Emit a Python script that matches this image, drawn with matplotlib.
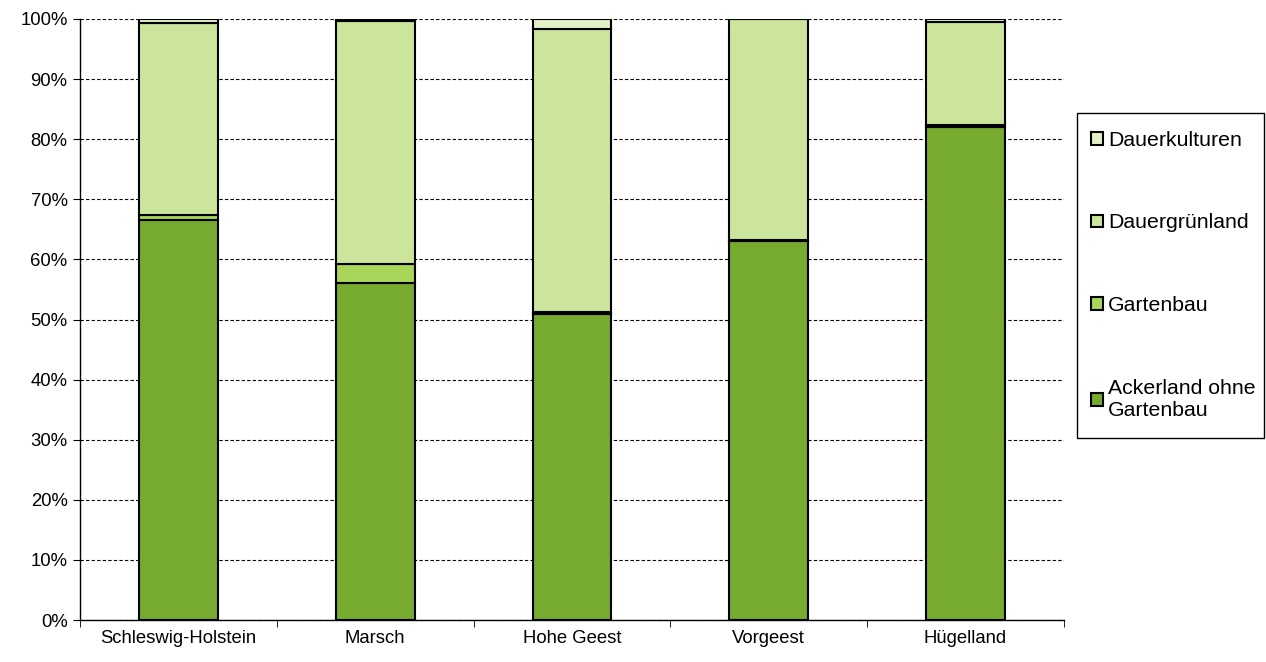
import matplotlib
matplotlib.use("Agg")
import matplotlib.pyplot as plt
from matplotlib.patches import Rectangle
import numpy as np
from matplotlib.ticker import PercentFormatter, FixedLocator

categories = ["Schleswig-Holstein", "Marsch", "Hohe Geest", "Vorgeest", "Hügelland"]
ackerland = [66.6, 56.1, 50.9, 63.0, 82.0]
gartenbau = [0.8, 3.1, 0.3, 0.3, 0.4]
dauergruenland = [31.9, 40.5, 47.1, 36.7, 17.1]
dauerkulturen = [0.7, 0.3, 1.7, 0.0, 0.5]

series = [
    ("Ackerland ohne\nGartenbau", ackerland, "#76AB2F"),
    ("Gartenbau", gartenbau, "#A8D55A"),
    ("Dauergrünland", dauergruenland, "#CBE69C"),
    ("Dauerkulturen", dauerkulturen, "#E4F1C8"),
]

W, H = 1266, 662
plt.rcParams['font.family'] = ['Liberation Sans', 'DejaVu Sans']
fig = plt.figure(figsize=(W / 100, H / 100), dpi=100)
ax = fig.add_axes([0.0632, 0.0634, 0.7772, 0.9079])

x = np.arange(len(categories))
bottom = np.zeros(len(categories))
handles = []
for label, vals, color in series:
    vals = np.array(vals)
    b = ax.bar(x, vals, bottom=bottom, width=0.4, color=color, edgecolor="black",
               linewidth=1.5, label=label, zorder=3)
    handles.append(b)
    bottom += vals

ax.set_xlim(-0.5, len(categories) - 0.5)
ax.set_ylim(0, 100)
ax.yaxis.set_major_locator(FixedLocator(np.arange(0, 101, 10)))
ax.yaxis.set_major_formatter(PercentFormatter(decimals=0))
ax.grid(axis="y", color="black", linestyle=(0, (3, 2)), linewidth=0.8, zorder=0)
ax.set_xticks(x)
ax.set_xticklabels(categories)
ax.tick_params(axis="x", length=0, labelsize=13.3, pad=7)
ax.tick_params(axis="y", length=5, labelsize=13.3, direction="out", pad=4)
ax.set_xticks(np.arange(-0.5, len(categories), 1.0), minor=True)
ax.tick_params(axis="x", which="minor", length=5)
for s in ["top", "right"]:
    ax.spines[s].set_visible(False)
ax.spines["left"].set_linewidth(1.0)
ax.spines["bottom"].set_linewidth(1.0)

leg = fig.legend(handles[::-1], [s[0] for s in series][::-1], loc="lower left",
                 bbox_to_anchor=(1091 / W, 1 - 420 / H), frameon=False,
                 fontsize=15.3,
                 handlelength=0.55, handleheight=0.55, handletextpad=0.25,
                 labelspacing=3.0, borderpad=0, borderaxespad=0)

# legend frame
top_px, bot_px, left_px, right_px = 113, 438, 1077, 1264
fig.patches.append(Rectangle((left_px / W, 1 - bot_px / H),
                             (right_px - left_px) / W, (bot_px - top_px) / H,
                             transform=fig.transFigure, fill=False,
                             edgecolor="black", linewidth=1.0))

fig.savefig("out.png", dpi=100)
